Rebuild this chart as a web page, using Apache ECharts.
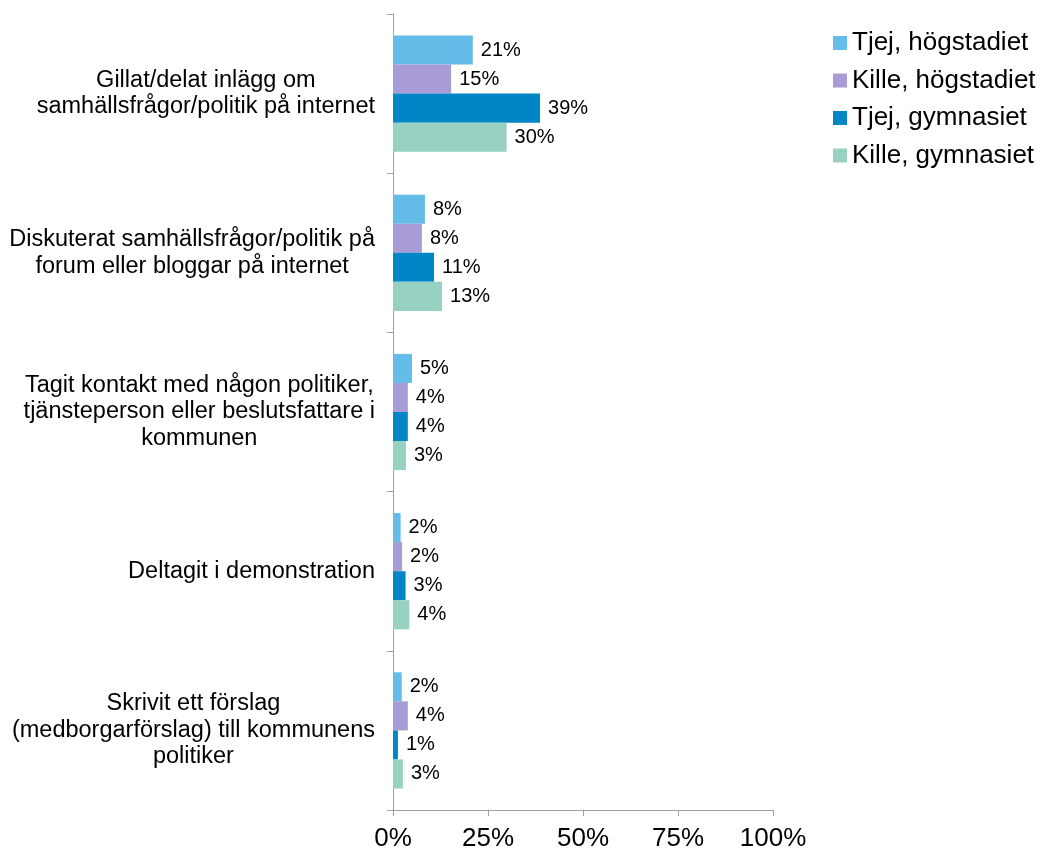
<!DOCTYPE html>
<html>
<head>
<meta charset="utf-8">
<script src="https://cdn.jsdelivr.net/npm/echarts@6/dist/echarts.min.js"></script>
<style>
  html, body { margin: 0; padding: 0; background: #fff; }
  #main { width: 1042px; height: 852px; }
</style>
</head>
<body>
<div id="main"></div>
<script>
// kategorier (uppifrån och ned)
var categories = [
    'Gillat/delat inlägg om\nsamhällsfrågor/politik på internet',
    'Diskuterat samhällsfrågor/politik på\nforum eller bloggar på internet',
    'Tagit kontakt med någon politiker,\ntjänsteperson eller beslutsfattare i\nkommunen',
    'Deltagit i demonstration',
    'Skrivit ett förslag\n(medborgarförslag) till kommunens\npolitiker'
];
var seriesNames = ['Tjej, högstadiet', 'Kille, högstadiet', 'Tjej, gymnasiet', 'Kille, gymnasiet'];

// andelar i procent
var tjejHogstadiet  = [21, 8.4, 5.0, 2.0, 2.3];
var killeHogstadiet = [15.3, 7.6, 3.9, 2.4, 3.9];
var tjejGymnasiet   = [38.7, 10.8, 3.9, 3.3, 1.3];
var killeGymnasiet  = [29.9, 12.9, 3.4, 4.3, 2.6];

var xTicks = [0, 25, 50, 75, 100];

var colors = ['#64BCE8', '#A89BD6', '#0085C7', '#98D0C2'];
var font = '"Liberation Sans", Arial, sans-serif';

var myChart = echarts.init(document.getElementById('main'));

function makeSeries(name, data) {
    return {
        name: name,
        type: 'bar',
        barGap: '0%',
        barCategoryGap: '27%',
        data: data,
        label: {
            show: true,
            position: 'right',
            distance: 8,
            color: '#000',
            fontFamily: font,
            fontSize: 20,
            formatter: function (p) { return Math.round(p.value) + '%'; }
        }
    };
}

myChart.setOption({
    color: colors,
    animation: false,
    textStyle: { fontFamily: font },
    legend: {
        orient: 'vertical',
        left: 833,
        top: 30,
        padding: 0,
        itemWidth: 14,
        itemHeight: 14,
        itemGap: 11.5,
        icon: 'rect',
        data: seriesNames,
        textStyle: { fontSize: 26, color: '#000', fontFamily: font }
    },
    grid: {
        left: 393,
        right: 269,
        top: 14,
        bottom: 42,
        containLabel: false
    },
    xAxis: {
        type: 'value',
        min: xTicks[0],
        max: xTicks[xTicks.length - 1],
        interval: 25,
        splitLine: { show: false },
        axisLine: { show: true, lineStyle: { color: '#A0A0A0', width: 1 } },
        axisTick: { show: true, length: 6, lineStyle: { color: '#A0A0A0' } },
        axisLabel: {
            margin: 16,
            fontSize: 26,
            color: '#000',
            fontFamily: font,
            formatter: '{value}%'
        }
    },
    yAxis: {
        type: 'category',
        inverse: true,
        data: categories,
        axisLine: { show: true, lineStyle: { color: '#A0A0A0', width: 1 } },
        axisTick: { show: true, length: 6, lineStyle: { color: '#A0A0A0' } },
        axisLabel: {
            margin: 18,
            color: '#000',
            fontFamily: font,
            fontSize: 23.5,
            lineHeight: 26.5,
            formatter: function (v) {
                return v.split('\n').map(function (s) { return '{c|' + s + '}'; }).join('\n');
            },
            rich: {
                c: { align: 'center', fontSize: 23.5, lineHeight: 26.5, color: '#000', fontFamily: font }
            }
        }
    },
    series: [
        makeSeries(seriesNames[0], tjejHogstadiet),
        makeSeries(seriesNames[1], killeHogstadiet),
        makeSeries(seriesNames[2], tjejGymnasiet),
        makeSeries(seriesNames[3], killeGymnasiet)
    ]
});
</script>
</body>
</html>
